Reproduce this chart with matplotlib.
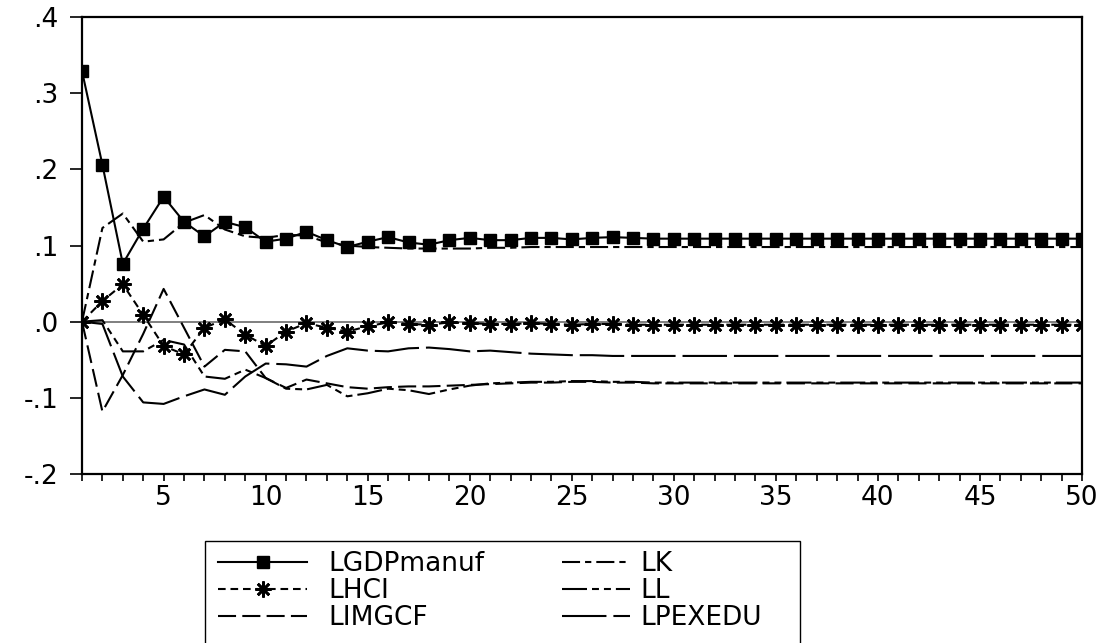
import matplotlib
matplotlib.use("Agg")
import matplotlib.pyplot as plt
from matplotlib.patches import Rectangle
from matplotlib.ticker import FixedLocator, FuncFormatter

plt.rcParams['font.family'] = ['DejaVu Sans']
plt.rcParams['lines.scale_dashes'] = False

periods = list(range(1, 51))

lgdpmanuf = [0.329, 0.206, 0.076, 0.122, 0.164, 0.131, 0.112, 0.131, 0.124, 0.105,
             0.109, 0.118, 0.107, 0.098, 0.105, 0.111, 0.104, 0.101, 0.107, 0.110,
             0.107, 0.107, 0.110, 0.110, 0.108, 0.110, 0.111, 0.110, 0.109, 0.109,
             0.109, 0.109, 0.109, 0.109, 0.109, 0.109, 0.109, 0.109, 0.109, 0.109,
             0.109, 0.109, 0.109, 0.109, 0.109, 0.109, 0.109, 0.109, 0.109, 0.109]
lk = [0.000, 0.123, 0.142, 0.105, 0.108, 0.130, 0.140, 0.121, 0.112, 0.110,
      0.114, 0.113, 0.104, 0.100, 0.098, 0.097, 0.096, 0.096, 0.096, 0.096,
      0.097, 0.097, 0.098, 0.098, 0.098, 0.098, 0.098, 0.098, 0.098, 0.098,
      0.098, 0.098, 0.098, 0.098, 0.098, 0.098, 0.098, 0.098, 0.098, 0.098,
      0.098, 0.098, 0.098, 0.098, 0.098, 0.098, 0.098, 0.098, 0.098, 0.098]
lhci = [0.000, 0.027, 0.049, 0.009, -0.032, -0.043, -0.008, 0.003, -0.017, -0.032,
        -0.013, -0.002, -0.008, -0.013, -0.006, -0.001, -0.003, -0.004, -0.001, -0.002,
        -0.003, -0.003, -0.002, -0.003, -0.004, -0.003, -0.003, -0.004, -0.004, -0.004,
        -0.004, -0.004, -0.004, -0.004, -0.004, -0.004, -0.004, -0.004, -0.004, -0.004,
        -0.004, -0.004, -0.004, -0.004, -0.004, -0.004, -0.004, -0.004, -0.004, -0.004]
ll = [0.000, 0.002, -0.039, -0.039, -0.024, -0.030, -0.072, -0.075, -0.063, -0.074,
      -0.088, -0.089, -0.083, -0.098, -0.094, -0.088, -0.090, -0.095, -0.089, -0.084,
      -0.081, -0.080, -0.079, -0.079, -0.078, -0.078, -0.079, -0.079, -0.080, -0.080,
      -0.080, -0.080, -0.080, -0.080, -0.080, -0.080, -0.080, -0.080, -0.080, -0.080,
      -0.080, -0.080, -0.080, -0.080, -0.080, -0.080, -0.080, -0.080, -0.080, -0.080]
limgcf = [0.000, -0.118, -0.070, -0.016, 0.043, -0.008, -0.059, -0.037, -0.039, -0.074,
          -0.087, -0.076, -0.081, -0.086, -0.088, -0.086, -0.085, -0.085, -0.084, -0.083,
          -0.082, -0.081, -0.080, -0.080, -0.079, -0.079, -0.080, -0.080, -0.081, -0.081,
          -0.081, -0.081, -0.081, -0.081, -0.081, -0.081, -0.081, -0.081, -0.081, -0.081,
          -0.081, -0.081, -0.081, -0.081, -0.081, -0.081, -0.081, -0.081, -0.081, -0.081]
lpexedu = [0.000, -0.003, -0.072, -0.106, -0.108, -0.098, -0.089, -0.096, -0.072, -0.055,
           -0.056, -0.059, -0.045, -0.035, -0.038, -0.039, -0.035, -0.034, -0.036, -0.039,
           -0.038, -0.040, -0.042, -0.043, -0.044, -0.044, -0.045, -0.045, -0.045, -0.045,
           -0.045, -0.045, -0.045, -0.045, -0.045, -0.045, -0.045, -0.045, -0.045, -0.045,
           -0.045, -0.045, -0.045, -0.045, -0.045, -0.045, -0.045, -0.045, -0.045, -0.045]

y_ticks = [-0.2, -0.1, 0.0, 0.1, 0.2, 0.3, 0.4]
x_labeled = [5, 10, 15, 20, 25, 30, 35, 40, 45, 50]

W, H = 1106, 643
fig = plt.figure(figsize=(W / 100, H / 100), dpi=100)
ax = fig.add_axes([82 / W, 1 - 474 / H, (1082 - 82) / W, (474 - 17) / H])

ax.axhline(0, color='#7f7f7f', lw=1.4, zorder=1)

lw = 1.5
h_gdp, = ax.plot(periods, lgdpmanuf, color='black', lw=lw, marker='s', ms=8.5,
                 label='LGDPmanuf', zorder=5)
h_lk, = ax.plot(periods, lk, color='black', lw=lw, dashes=(13, 3.6, 4.5, 3.6),
                label='LK', zorder=4)
h_hci, = ax.plot(periods, lhci, color='black', lw=lw, dashes=(5.5, 3.5),
                 marker=(8, 2, 0), ms=11.5, mew=1.9, label='LHCI', zorder=4)
h_ll, = ax.plot(periods, ll, color='black', lw=lw,
                dashes=(18, 3.6, 5, 3.6, 5, 3.6), label='LL', zorder=3)
h_img, = ax.plot(periods, limgcf, color='black', lw=lw, dashes=(13, 4.5),
                 label='LIMGCF', zorder=3)
h_pex, = ax.plot(periods, lpexedu, color='black', lw=lw, dashes=(32, 5),
                 label='LPEXEDU', zorder=3)

ax.set_xlim(1, 50)
ax.set_ylim(-0.2, 0.4)

ax.xaxis.set_major_locator(FixedLocator(x_labeled))
ax.xaxis.set_minor_locator(FixedLocator([p for p in periods if p not in x_labeled]))
ax.yaxis.set_major_locator(FixedLocator(y_ticks))


def yfmt(v, pos):
    s = f"{v:.1f}"
    s = s.replace("0.", ".")
    if s == "-.0":
        s = ".0"
    return s


ax.yaxis.set_major_formatter(FuncFormatter(yfmt))

fs = 19
ax.tick_params(axis='y', direction='out', length=9, width=1.2, pad=8, labelsize=fs)
ax.tick_params(axis='x', which='major', direction='out', length=5, width=1.2, pad=3,
               labelsize=fs)
ax.tick_params(axis='x', which='minor', direction='out', length=5, width=1.2)
for s in ax.spines.values():
    s.set_linewidth(1.6)
    s.set_color('black')

em = fs * 100 / 72.0
col1 = [h_gdp, h_hci, h_img]
col2 = [h_lk, h_ll, h_pex]
leg1 = fig.legend(handles=col1, labels=[h.get_label() for h in col1],
                  loc='upper left', bbox_to_anchor=(218 / W, 1 - 551 / H),
                  frameon=False, fontsize=fs, handlelength=89 / em,
                  handletextpad=21 / em, labelspacing=0.04, borderpad=0,
                  borderaxespad=0, numpoints=1)
leg2 = fig.legend(handles=col2, labels=[h.get_label() for h in col2],
                  loc='upper left', bbox_to_anchor=(562 / W, 1 - 551 / H),
                  frameon=False, fontsize=fs, handlelength=68 / em,
                  handletextpad=10 / em, labelspacing=0.04, borderpad=0,
                  borderaxespad=0, numpoints=1)

fig.patches.append(Rectangle((205 / W, -0.05), (800 - 205) / W, (1 - 541 / H) + 0.05,
                             transform=fig.transFigure, fill=False,
                             edgecolor='black', lw=1.0))

fig.savefig('out.png', dpi=100)
